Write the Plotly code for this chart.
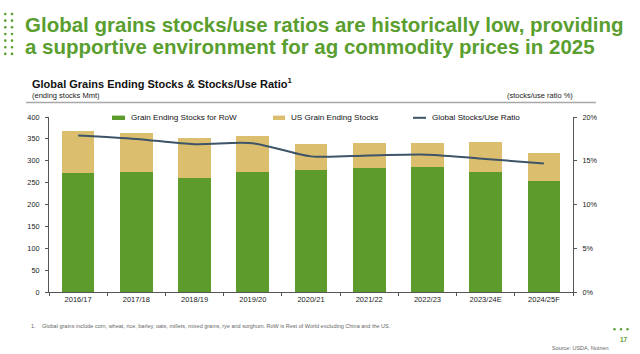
import plotly.graph_objects as go

categories = ["2016/17", "2017/18", "2018/19", "2019/20", "2020/21",
              "2021/22", "2022/23", "2023/24E", "2024/25F"]
row_stocks = [272, 275, 261, 274, 279, 283, 286, 274, 253]
us_stocks = [96, 89, 92, 83, 59, 57, 54, 69, 65]
stocks_use_ratio = [17.9, 17.5, 16.9, 17.0, 15.5, 15.6, 15.7, 15.2, 14.7]

left_ticks = [0, 50, 100, 150, 200, 250, 300, 350, 400]
right_ticks = [0, 5, 10, 15, 20]
right_tick_labels = ["0%", "5%", "10%", "15%", "20%"]

name_row = "Grain Ending Stocks for RoW"
name_us = "US Grain Ending Stocks"
name_ratio = "Global Stocks/Use Ratio"

title_lines = ["Global grains stocks/use ratios are historically low, providing",
               "a supportive environment for ag commodity prices in 2025"]

GREEN = "#5e9b2d"
TAN = "#dcbf6e"
LINE = "#3e5468"
TITLE_GREEN = "#5a9e2f"
FONT = "Liberation Sans, Arial, sans-serif"

fig = go.Figure()
fig.add_trace(go.Bar(x=categories, y=row_stocks, name=name_row,
                     marker=dict(color=GREEN, line=dict(width=0)), yaxis="y"))
fig.add_trace(go.Bar(x=categories, y=us_stocks, name=name_us,
                     marker=dict(color=TAN, line=dict(width=0)), yaxis="y"))
fig.add_trace(go.Scatter(x=categories, y=stocks_use_ratio, name=name_ratio,
                         mode="lines", line=dict(color=LINE, width=2, shape="spline", smoothing=0.8),
                         yaxis="y2"))

W, H = 640, 354
ml, mr, mt, mb = 49, 67, 117, 62
PW = W - ml - mr
PH = H - mt - mb

def px(x):
    return (x - ml) / PW

def py(y):
    return (H - mb - y) / PH

shapes = []
annotations = []

# title dots
for cx in (5.3, 12):
    for i in range(7):
        cy = 14 + i * 6.65
        shapes.append(dict(type="circle", xref="paper", yref="paper",
                           x0=px(cx - 1.3), x1=px(cx + 1.3), y0=py(cy + 1.3), y1=py(cy - 1.3),
                           fillcolor=TITLE_GREEN, line=dict(width=0)))

for line_text, cy in zip(title_lines, (24, 46)):
    annotations.append(dict(text=line_text, xref="paper", yref="paper", x=px(23), y=py(cy),
                            xanchor="left", yanchor="middle", showarrow=False, align="left",
                            font=dict(family=FONT, size=20.5, color=TITLE_GREEN, weight="bold")))

annotations.append(dict(text="<b>Global Grains Ending Stocks &amp; Stocks/Use Ratio<sup>1</sup></b>",
                        xref="paper", yref="paper", x=px(30), y=py(83), xanchor="left", yanchor="middle",
                        showarrow=False, font=dict(family=FONT, size=11, color="#111111")))
annotations.append(dict(text="(ending stocks Mmt)", xref="paper", yref="paper", x=px(30), y=py(95.5),
                        xanchor="left", yanchor="middle", showarrow=False,
                        font=dict(family=FONT, size=7.5, color="#222222")))
annotations.append(dict(text="(stocks/use ratio %)", xref="paper", yref="paper", x=px(575), y=py(96),
                        xanchor="right", yanchor="middle", showarrow=False,
                        font=dict(family=FONT, size=7.5, color="#222222")))
shapes.append(dict(type="line", xref="paper", yref="paper", x0=px(26), x1=px(596),
                   y0=py(102.5), y1=py(102.5), line=dict(color="#a8a8a8", width=1.5)))

# manual legend
leg_y = 117.8
for x0, x1, color, name, kind in [(112, 125, GREEN, name_row, "bar"),
                                  (273, 285, TAN, name_us, "bar"),
                                  (413, 426, LINE, name_ratio, "line")]:
    if kind == "bar":
        shapes.append(dict(type="rect", xref="paper", yref="paper", x0=px(x0), x1=px(x1),
                           y0=py(leg_y + 2.2), y1=py(leg_y - 2.2), fillcolor=color, line=dict(width=0)))
    else:
        shapes.append(dict(type="line", xref="paper", yref="paper", x0=px(x0), x1=px(x1),
                           y0=py(leg_y), y1=py(leg_y), line=dict(color=color, width=2)))
    annotations.append(dict(text=name, xref="paper", yref="paper", x=px(x1 + 3.5), y=py(leg_y),
                            xanchor="left", yanchor="middle", showarrow=False,
                            font=dict(family=FONT, size=8.1, color="#111111")))

# footnote & source
annotations.append(dict(text="1.", xref="paper", yref="paper", x=px(29), y=py(326),
                        xanchor="left", yanchor="middle", showarrow=False,
                        font=dict(family=FONT, size=5.5, color="#666666")))
annotations.append(dict(text="Global grains include corn, wheat, rice, barley, oats, millets, mixed grains, rye and sorghum. RoW is Rest of World excluding China and the US.",
                        xref="paper", yref="paper", x=px(40), y=py(326),
                        xanchor="left", yanchor="middle", showarrow=False,
                        font=dict(family=FONT, size=5.5, color="#666666")))
annotations.append(dict(text="Source: USDA, Nutrien", xref="paper", yref="paper", x=px(611), y=py(348),
                        xanchor="right", yanchor="middle", showarrow=False,
                        font=dict(family=FONT, size=5.5, color="#666666")))
annotations.append(dict(text="<b>17</b>", xref="paper", yref="paper", x=px(630), y=py(339.5),
                        xanchor="right", yanchor="middle", showarrow=False,
                        font=dict(family=FONT, size=6.5, color=TITLE_GREEN)))
for cx in (614.5, 621, 627.5):
    shapes.append(dict(type="circle", xref="paper", yref="paper",
                       x0=px(cx - 1.2), x1=px(cx + 1.2), y0=py(329.3 + 1.2), y1=py(329.3 - 1.2),
                       fillcolor=TITLE_GREEN, line=dict(width=0)))

fig.update_layout(
    width=W, height=H,
    margin=dict(l=ml, r=mr, t=mt, b=mb, pad=0),
    paper_bgcolor="white", plot_bgcolor="white",
    barmode="stack", bargap=0.44,
    showlegend=False,
    font=dict(family=FONT, size=7.5, color="#222222"),
    xaxis=dict(showline=True, linecolor="#555555", linewidth=1, ticks="outside",
               tickson="boundaries", ticklen=3, tickcolor="#555555",
               tickfont=dict(size=7.5, color="#222222"), showgrid=False, fixedrange=True),
    yaxis=dict(range=[0, 400], tickvals=left_ticks, showline=True, linecolor="#555555",
               linewidth=1, ticks="outside", ticklen=3, tickcolor="#555555", showgrid=False,
               zeroline=False, tickfont=dict(size=7.3, color="#222222"), ticklabelstandoff=4),
    yaxis2=dict(range=[0, 20], tickvals=right_ticks, ticktext=right_tick_labels, overlaying="y",
                side="right", showline=True, linecolor="#555555", linewidth=1, ticks="outside",
                ticklen=3, tickcolor="#555555", showgrid=False, zeroline=False,
                tickfont=dict(size=7.3, color="#222222"), ticklabelstandoff=4),
    shapes=shapes, annotations=annotations,
)

fig.write_html("out.html")
